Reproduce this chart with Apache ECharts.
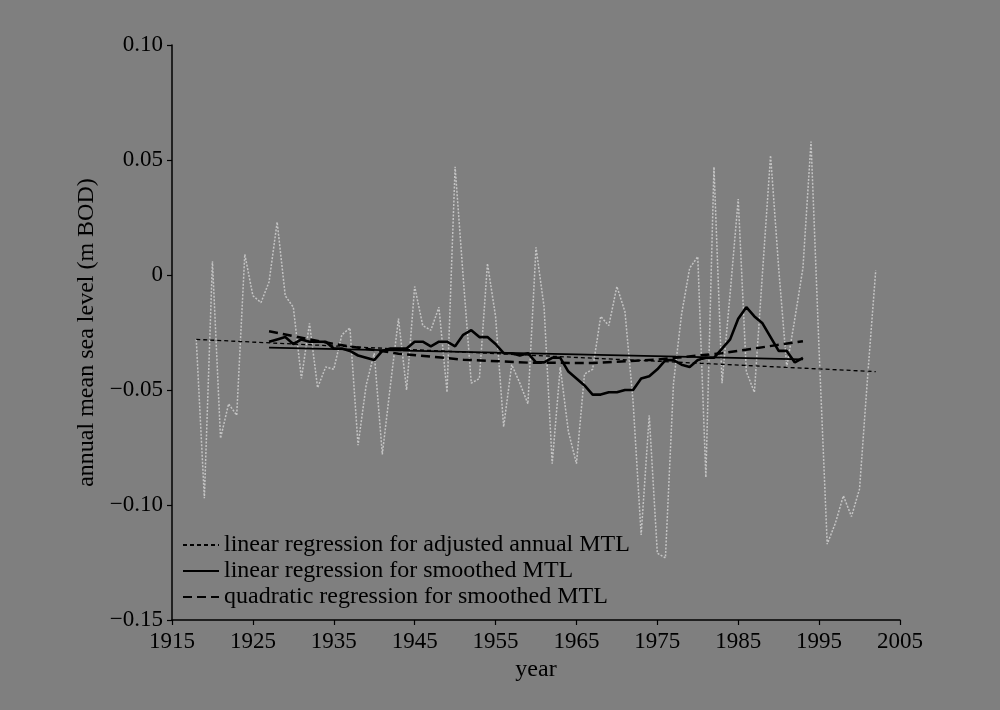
<!DOCTYPE html>
<html><head><meta charset="utf-8">
<script src="https://cdn.jsdelivr.net/npm/echarts@6/dist/echarts.min.js"></script>
<style>html,body{margin:0;padding:0;background:#7f7f7f}#c{width:1000px;height:710px}</style>
</head><body><div id="c"></div>
<script>
// ---- data ----
const annualStartYear = 1918;
const annualMTL = [
  -0.028, -0.097, 0.006, -0.071, -0.056, -0.061, 0.009, -0.009, -0.012, -0.003,
   0.023, -0.009, -0.014, -0.045, -0.021, -0.049, -0.040, -0.041, -0.026, -0.023,
  -0.074, -0.048, -0.034, -0.078, -0.048, -0.019, -0.050, -0.005, -0.022, -0.024,
  -0.014, -0.051, 0.047, -0.001, -0.047, -0.045, 0.005, -0.018, -0.066, -0.039,
  -0.047, -0.056, 0.012, -0.014, -0.082, -0.040, -0.068, -0.082, -0.043, -0.041,
  -0.018, -0.022, -0.005, -0.016, -0.055, -0.113, -0.061, -0.121, -0.123, -0.047,
  -0.017, 0.003, 0.008, -0.088, 0.047, -0.047, -0.008, 0.033, -0.042, -0.051,
   0.001, 0.052, 0.003, -0.040, -0.019, 0.003, 0.058, -0.033, -0.117, -0.108,
  -0.096, -0.105, -0.093, -0.044, 0.002
];
const smoothStartYear = 1927;
const smoothedMTL = [
  -0.029, -0.028, -0.027, -0.030, -0.028, -0.029, -0.029, -0.029, -0.032, -0.032,
  -0.033, -0.035, -0.036, -0.037, -0.033, -0.032, -0.032, -0.032, -0.029, -0.029,
  -0.031, -0.029, -0.029, -0.031, -0.026, -0.024, -0.027, -0.027, -0.030, -0.034,
  -0.034, -0.035, -0.034, -0.038, -0.038, -0.036, -0.036, -0.042, -0.045, -0.048,
  -0.052, -0.052, -0.051, -0.051, -0.050, -0.050, -0.045, -0.044, -0.041, -0.037,
  -0.037, -0.039, -0.040, -0.037, -0.036, -0.036, -0.032, -0.028, -0.019, -0.014,
  -0.018, -0.021, -0.027, -0.033, -0.033, -0.038, -0.036
];
const linAnnualYears = [1918, 2002];
const linAnnualVals = [-0.028, -0.042];
const linSmoothYears = [1927, 1993];
const linSmoothVals = [-0.0316, -0.0367];
const quadYears = [1927, 1935, 1943, 1951, 1959, 1967, 1975, 1983, 1993];
const quadVals = [-0.0245, -0.0300, -0.0342, -0.0368, -0.0381, -0.0383, -0.0368, -0.0340, -0.0288];
const legendNames = [
  'linear regression for adjusted annual MTL',
  'linear regression for smoothed MTL',
  'quadratic regression for smoothed MTL'
];
const xName = 'year';
const yName = 'annual mean sea level (m BOD)';

// ---- build ----
const pairsFrom = (start, vals) => vals.map((v, i) => [start + i, v]);
const zip = (xs, ys) => xs.map((x, i) => [x, ys[i]]);
const FONT = 'Liberation Serif';

const chart = echarts.init(document.getElementById('c'), null, {renderer: 'canvas'});
chart.setOption({
  animation: false,
  backgroundColor: '#7f7f7f',
  textStyle: {fontFamily: FONT, color: '#000'},
  grid: {left: 172, right: 100, top: 45, bottom: 90, containLabel: false},
  legend: {
    data: legendNames,
    orient: 'vertical',
    left: 182, top: 533,
    padding: 0,
    itemWidth: 36, itemHeight: 14, itemGap: 2,
    itemStyle: {opacity: 0},
    textStyle: {fontFamily: FONT, fontSize: 24, color: '#000'}
  },
  xAxis: {
    type: 'value', min: 1915, max: 2005, interval: 10,
    name: xName, nameLocation: 'middle', nameGap: 35,
    nameTextStyle: {fontFamily: FONT, fontSize: 24, color: '#000'},
    axisLine: {onZero: false, lineStyle: {color: '#000', width: 1.5}},
    axisTick: {length: 5, lineStyle: {color: '#000', width: 1.2}},
    axisLabel: {fontFamily: FONT, fontSize: 23, color: '#000', margin: 10, formatter: v => String(v)},
    splitLine: {show: false}
  },
  yAxis: {
    type: 'value', min: -0.15, max: 0.10, interval: 0.05,
    name: yName, nameLocation: 'middle', nameGap: 62,
    nameTextStyle: {fontFamily: FONT, fontSize: 24, color: '#000'},
    axisLine: {show: true, onZero: false, lineStyle: {color: '#000', width: 1.5}},
    axisTick: {show: true, length: 5, lineStyle: {color: '#000', width: 1.2}},
    axisLabel: {
      fontFamily: FONT, fontSize: 23, color: '#000', margin: 9,
      formatter: v => Math.abs(v) < 1e-9 ? '0' : (v < 0 ? '\u2212' : '') + Math.abs(v).toFixed(2)
    },
    splitLine: {show: false}
  },
  series: [
    {type: 'line', name: 'annual', data: pairsFrom(annualStartYear, annualMTL), symbol: 'none',
     lineStyle: {color: '#c4c4c4', width: 1.5, type: [2, 1.5]}, z: 1},
    {type: 'line', name: 'smoothed', data: pairsFrom(smoothStartYear, smoothedMTL), symbol: 'none',
     lineStyle: {color: '#000', width: 2.6}, z: 4},
    {type: 'line', name: legendNames[0], data: zip(linAnnualYears, linAnnualVals), symbol: 'none',
     lineStyle: {color: '#000', width: 1.3, type: [4, 3]}, itemStyle: {color: '#000'}, z: 2},
    {type: 'line', name: legendNames[1], data: zip(linSmoothYears, linSmoothVals), symbol: 'none',
     lineStyle: {color: '#000', width: 1.8}, itemStyle: {color: '#000'}, z: 3},
    {type: 'line', name: legendNames[2], data: zip(quadYears, quadVals), symbol: 'none',
     lineStyle: {color: '#000', width: 2.5, type: [9, 5]}, itemStyle: {color: '#000'}, z: 3}
  ]
});
</script></body></html>
